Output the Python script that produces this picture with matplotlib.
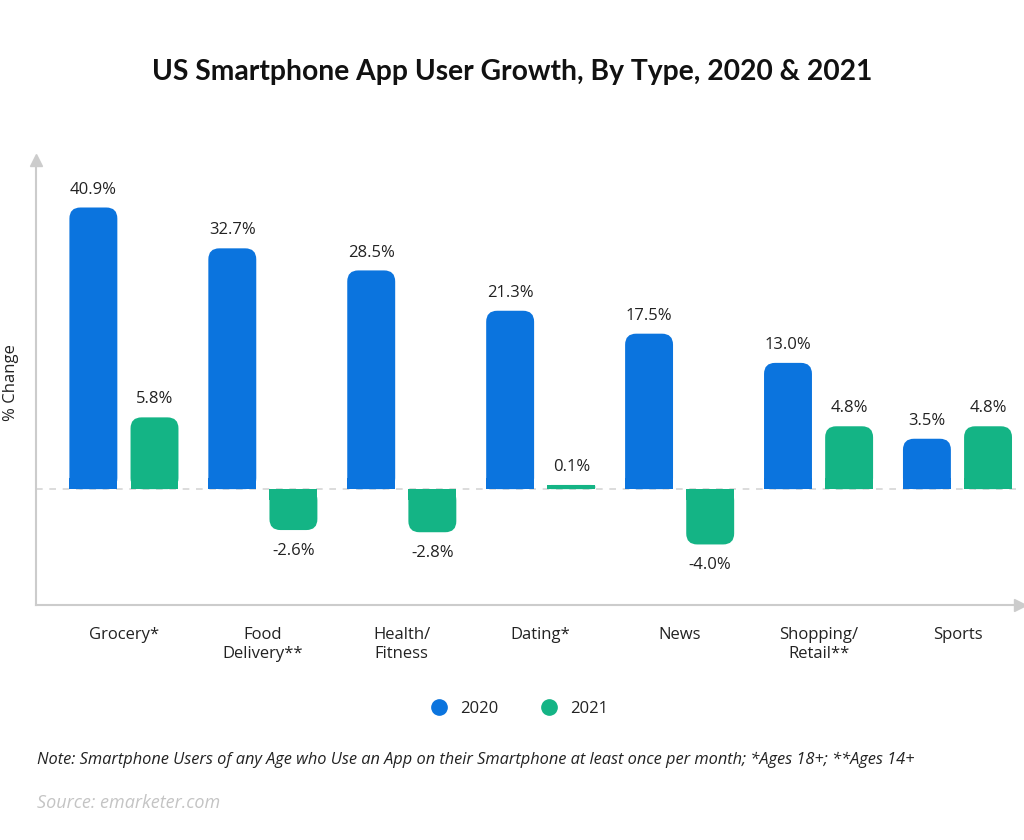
import numpy as np
import matplotlib
matplotlib.use('Agg')
import matplotlib.pyplot as plt
from matplotlib.patches import FancyBboxPatch, Rectangle
from matplotlib.transforms import IdentityTransform

categories = ['Grocery*', 'Food\nDelivery**', 'Health/\nFitness', 'Dating*',
              'News', 'Shopping/\nRetail**', 'Sports']
growth_2020 = [40.9, 32.7, 28.5, 21.3, 17.5, 13.0, 3.5]
growth_2021 = [5.8, -2.6, -2.8, 0.1, -4.0, 4.8, 4.8]

BLUE = '#0b74de'
GREEN = '#14b485'
TXT = '#222222'
GRAY = '#cccccc'

plt.rcParams['font.family'] = ['Open Sans', 'DejaVu Sans']

fig = plt.figure(figsize=(10.24, 8.4), dpi=100)
ax = fig.add_axes([36/1024, 1-605/840, (1020-36)/1024, (605-160)/840])

# the original graphic stretches small values, a power scale reproduces it
p = 0.7
fwd = lambda v: np.sign(v)*np.abs(v)**p
inv = lambda u: np.sign(u)*np.abs(u)**(1/p)
ax.set_yscale('function', functions=(fwd, inv))
ax.set_ylim(-11.5, 51.1)
ax.set_xlim(-0.633, 6.45)

x = np.arange(len(categories))
w = 0.345
off = 0.22
b1 = ax.bar(x-off, growth_2020, w, color=BLUE, label='2020')
b2 = ax.bar(x+off, growth_2021, w, color=GREEN, label='2021')

ax.axhline(0, color='#d5d5d5', lw=1.2, ls=(0, (4, 4)), zorder=0)

for s in ['top', 'right']:
    ax.spines[s].set_visible(False)
for s in ['left', 'bottom']:
    ax.spines[s].set_color(GRAY)
    ax.spines[s].set_linewidth(1.5)
ax.plot(0, 1, marker='^', ms=9, color=GRAY, transform=ax.transAxes, clip_on=False)
ax.plot(1, 0, marker='>', ms=9, color=GRAY, transform=ax.transAxes, clip_on=False)

ax.set_yticks([])
ax.minorticks_off()
ax.set_xticks(x)
ax.set_xticklabels(categories, fontsize=12, color=TXT, linespacing=1.2)
ax.tick_params(axis='x', length=0, pad=16)
ax.set_ylabel('% Change', fontsize=12, color=TXT, labelpad=12)

# rounded ends on the bars (outer end only)
def round_bars(bars, vals, color, r=11):
    for b, v in zip(bars, vals):
        (x0, y0), (x1, y1) = ax.transData.transform(
            [(b.get_x(), 0), (b.get_x()+b.get_width(), v)])
        h = abs(y1-y0)
        rr = min(r, h)
        lo = min(y0, y1)
        fig.add_artist(FancyBboxPatch((x0, lo), x1-x0, h,
                       boxstyle='round,pad=0,rounding_size=%f' % rr,
                       fc=color, ec='none', transform=IdentityTransform(), zorder=2))
        base = y0 if v > 0 else y0-rr
        fig.add_artist(Rectangle((x0, base), x1-x0, rr, fc=color, ec='none',
                       transform=IdentityTransform(), zorder=2))
        b.set_visible(False)

round_bars(b1, growth_2020, BLUE)
round_bars(b2, growth_2021, GREEN)

for bars, vals, dx in [(b1, growth_2020, -off), (b2, growth_2021, off)]:
    for xi, v in zip(x, vals):
        if v >= 0:
            ax.annotate('%.1f%%' % v, (xi+dx, v), xytext=(0, 10), textcoords='offset points',
                        ha='center', va='baseline', fontsize=12, color=TXT)
        else:
            ax.annotate('%.1f%%' % v, (xi+dx, v), xytext=(0, -9), textcoords='offset points',
                        ha='center', va='top', fontsize=12, color=TXT)

fig.text(0.5, 1-72/840, 'US Smartphone App User Growth, By Type, 2020 & 2021',
         ha='center', va='center', fontsize=20.3, fontweight='bold', color='#111111',
         family=['Lato', 'DejaVu Sans'])

h1 = plt.Line2D([], [], ls='', marker='o', ms=11, color=BLUE)
h2 = plt.Line2D([], [], ls='', marker='o', ms=11, color=GREEN)
fig.legend([h1, h2], ['2020', '2021'], loc='center', bbox_to_anchor=(0.503, 1-709/840),
           ncol=2, frameon=False, fontsize=12, handletextpad=0.3, columnspacing=2.0,
           labelcolor=TXT)

fig.text(37/1024, 1-760/840, "Note: Smartphone Users of any Age who Use an App on their Smartphone "
         "at least once per month; *Ages 18+; **Ages 14+",
         ha='left', va='center', fontsize=11.8, style='italic', color=TXT)
fig.text(37/1024, 1-803/840, 'Source: emarketer.com', ha='left', va='center',
         fontsize=13, style='italic', color='#c4c4c4')

fig.savefig('out.png', dpi=100, facecolor='white')
